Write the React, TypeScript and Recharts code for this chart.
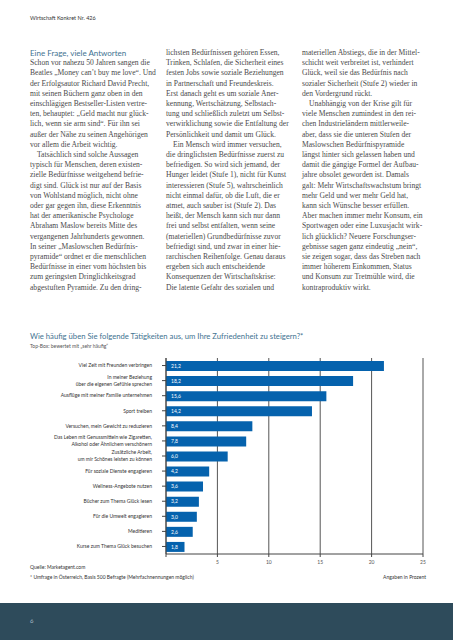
import React from 'react';
import {
  BarChart,
  Bar,
  XAxis,
  YAxis,
  CartesianGrid,
  LabelList
} from 'recharts';

// Survey answers, top to bottom as in the figure
const categories = [
  'Viel Zeit mit Freunden verbringen',
  'In meiner Beziehung\nüber die eigenen Gefühle sprechen',
  'Ausflüge mit meiner Familie unternehmen',
  'Sport treiben',
  'Versuchen, mein Gewicht zu reduzieren',
  'Das Leben mit Genussmitteln wie Zigaretten,\nAlkohol oder Ähnlichem verschönern',
  'Zusätzliche Arbeit,\num mir Schönes leisten zu können',
  'Für soziale Dienste engagieren',
  'Wellness-Angebote nutzen',
  'Bücher zum Thema Glück lesen',
  'Für die Umwelt engagieren',
  'Meditieren',
  'Kurse zum Thema Glück besuchen'
];
const values = [21.2, 18.2, 15.6, 14.2, 8.4, 7.8, 6.0, 4.2, 3.6, 3.2, 3.0, 2.6, 1.8];
const xTicks = [0, 5, 10, 15, 20, 25];

const col1 = [
  'Schon vor nahezu 50 Jahren sangen die',
  'Beatles „Money can’t buy me love“. Und',
  'der Erfolgsautor Richard David Precht,',
  'mit seinen Büchern ganz oben in den',
  'einschlägigen Bestseller-Listen vertre-',
  'ten, behauptet: „Geld macht nur glück-',
  'lich, wenn sie arm sind“. Für ihn sei',
  'außer der Nähe zu seinen Angehörigen',
  'vor allem die Arbeit wichtig.',
  '>Tatsächlich sind solche Aussagen',
  'typisch für Menschen, deren existen-',
  'zielle Bedürfnisse weitgehend befrie-',
  'digt sind. Glück ist nur auf der Basis',
  'von Wohlstand möglich, nicht ohne',
  'oder gar gegen ihn, diese Erkenntnis',
  'hat der amerikanische Psychologe',
  'Abraham Maslow bereits Mitte des',
  'vergangenen Jahrhunderts gewonnen.',
  'In seiner „Maslowschen Bedürfnis-',
  'pyramide“ ordnet er die menschlichen',
  'Bedürfnisse in einer vom höchsten bis',
  'zum geringsten Dringlichkeitsgrad',
  'abgestuften Pyramide. Zu den dring-'
];
const col2 = [
  'lichsten Bedürfnissen gehören Essen,',
  'Trinken, Schlafen, die Sicherheit eines',
  'festen Jobs sowie soziale Beziehungen',
  'in Partnerschaft und Freundeskreis.',
  'Erst danach geht es um soziale Aner-',
  'kennung, Wertschätzung, Selbstach-',
  'tung und schließlich zuletzt um Selbst-',
  'verwirklichung sowie die Entfaltung der',
  'Persönlichkeit und damit um Glück.',
  '>Ein Mensch wird immer versuchen,',
  'die dringlichsten Bedürfnisse zuerst zu',
  'befriedigen. So wird sich jemand, der',
  'Hunger leidet (Stufe 1), nicht für Kunst',
  'interessieren (Stufe 5), wahrscheinlich',
  'nicht einmal dafür, ob die Luft, die er',
  'atmet, auch sauber ist (Stufe 2). Das',
  'heißt, der Mensch kann sich nur dann',
  'frei und selbst entfalten, wenn seine',
  '(materiellen) Grundbedürfnisse zuvor',
  'befriedigt sind, und zwar in einer hie-',
  'rarchischen Reihenfolge. Genau daraus',
  'ergeben sich auch entscheidende',
  'Konsequenzen der Wirtschaftskrise:',
  'Die latente Gefahr des sozialen und'
];
const col3 = [
  'materiellen Abstiegs, die in der Mittel-',
  'schicht weit verbreitet ist, verhindert',
  'Glück, weil sie das Bedürfnis nach',
  'sozialer Sicherheit (Stufe 2) wieder in',
  'den Vordergrund rückt.',
  '>Unabhängig von der Krise gilt für',
  'viele Menschen zumindest in den rei-',
  'chen Industrieländern mittlerweile-',
  'aber, dass sie die unteren Stufen der',
  'Maslowschen Bedürfnispyramide',
  'längst hinter sich gelassen haben und',
  'damit die gängige Formel der Aufbau-',
  'jahre obsolet geworden ist. Damals',
  'galt: Mehr Wirtschaftswachstum bringt',
  'mehr Geld und wer mehr Geld hat,',
  'kann sich Wünsche besser erfüllen.',
  'Aber machen immer mehr Konsum, ein',
  'Sportwagen oder eine Luxusjacht wirk-',
  'lich glücklich? Neuere Forschungser-',
  'gebnisse sagen ganz eindeutig „nein“,',
  'sie zeigen sogar, dass das Streben nach',
  'immer höherem Einkommen, Status',
  'und Konsum zur Tretmühle wird, die',
  'kontraproduktiv wirkt.'
];

const data = categories.map((name, i) => ({ name, value: values[i] }));

const SANS = 'Lato, "Open Sans", sans-serif';
const SERIF = '"Liberation Serif", serif';
const TITLE_COLOR = '#3f7391';
const BAR_COLOR = '#0562ad';

const fmt = (v: any) => Number(v).toFixed(1).replace('.', ',');

const CategoryTick = (props: any) => {
  const { x, y, payload } = props;
  const lines = String(payload.value).split('\n');
  return (
    <text x={x} y={y} textAnchor="end" fontSize={5} fill="#333" fontFamily={SANS}>
      {lines.map((l, i) => (
        <tspan key={i} x={x} dy={i === 0 ? 1.8 - (lines.length - 1) * 3.5 : 7}>
          {l}
        </tspan>
      ))}
    </text>
  );
};

const Column = ({ lines, left, top }: { lines: string[]; left: number; top: number }) => (
  <div
    style={{
      position: 'absolute',
      left,
      top,
      fontFamily: SERIF,
      fontSize: 7.6,
      lineHeight: '10.2px',
      color: '#4a4a4a'
    }}
  >
    {lines.map((l, i) => {
      const indent = l.startsWith('>');
      return (
        <div key={i} style={{ whiteSpace: 'nowrap', paddingLeft: indent ? 7 : 0 }}>
          {indent ? l.slice(1) : l}
        </div>
      );
    })}
  </div>
);

export default function App() {
  return (
    <div
      style={{
        position: 'absolute',
        left: 0,
        top: 0,
        width: 453,
        height: 640,
        overflow: 'hidden',
        background: '#fff'
      }}
    >
      <div style={{ position: 'absolute', left: 30, top: 14, fontFamily: SANS, fontSize: 5.5, lineHeight: '8px', color: '#333' }}>
        Wirtschaft Konkret Nr. 426
      </div>

      <div style={{ position: 'absolute', left: 30, top: 48, fontFamily: SANS, fontSize: 8, lineHeight: '10.2px', color: TITLE_COLOR, whiteSpace: 'nowrap' }}>
        Eine Frage, viele Antworten
      </div>
      <Column lines={col1} left={30} top={58.2} />
      <Column lines={col2} left={166} top={48} />
      <Column lines={col3} left={302} top={48} />

      <div style={{ position: 'absolute', left: 30, top: 331, fontFamily: SANS, fontSize: 7.7, lineHeight: '10px', color: TITLE_COLOR, whiteSpace: 'nowrap' }}>
        Wie häufig üben Sie folgende Tätigkeiten aus, um Ihre Zufriedenheit zu steigern?*
      </div>
      <div style={{ position: 'absolute', left: 30, top: 343, fontFamily: SANS, fontSize: 5, lineHeight: '7px', color: '#555', whiteSpace: 'nowrap' }}>
        Top-Box: bewertet mit „sehr häufig“
      </div>

      <div style={{ position: 'absolute', left: 0, top: 340 }}>
        <BarChart
          width={453}
          height={250}
          data={data}
          layout="vertical"
          margin={{ top: 18, right: 30, left: 0, bottom: 16 }}
          barCategoryGap={2}
        >
          <CartesianGrid vertical horizontal={false} stroke="#555" strokeWidth={1} />
          <XAxis
            type="number"
            domain={[0, 25]}
            ticks={xTicks}
            height={20}
            axisLine={{ stroke: '#444' }}
            tickLine={{ stroke: '#444' }}
            tickSize={3}
            tickMargin={3}
            tick={{ fontSize: 5, fill: '#555', fontFamily: SANS }}
            tickFormatter={(v: number) => (v === 0 ? '' : String(v))}
          />
          <YAxis
            type="category"
            dataKey="name"
            width={166}
            interval={0}
            axisLine={{ stroke: '#444' }}
            tickLine={{ stroke: '#444' }}
            tickSize={4}
            tickMargin={10}
            tick={<CategoryTick />}
          />
          <Bar dataKey="value" fill={BAR_COLOR} barSize={10} isAnimationActive={false}>
            <LabelList
              dataKey="value"
              position="insideLeft"
              offset={5}
              formatter={fmt}
              style={{ fill: '#fff', fontSize: 5, fontFamily: SANS }}
            />
          </Bar>
        </BarChart>
      </div>

      <div style={{ position: 'absolute', left: 30, top: 563, fontFamily: SANS, fontSize: 5, lineHeight: '8px', color: '#333', whiteSpace: 'nowrap' }}>
        Quelle: Marketagent.com
      </div>
      <div style={{ position: 'absolute', left: 30, top: 573, fontFamily: SANS, fontSize: 5, lineHeight: '8px', color: '#333', whiteSpace: 'nowrap' }}>
        * Umfrage in Österreich, Basis 500 Befragte (Mehrfachnennungen möglich)
      </div>
      <div style={{ position: 'absolute', right: 27, top: 573, fontFamily: SANS, fontSize: 5, lineHeight: '8px', color: '#333', whiteSpace: 'nowrap' }}>
        Angaben in Prozent
      </div>

      <div style={{ position: 'absolute', left: 0, top: 603, width: 453, height: 37, background: '#2e4b5b' }}>
        <div style={{ position: 'absolute', left: 30, top: 14, fontFamily: SANS, fontSize: 6, lineHeight: '8px', color: '#a9bcc6' }}>
          6
        </div>
      </div>
    </div>
  );
}
